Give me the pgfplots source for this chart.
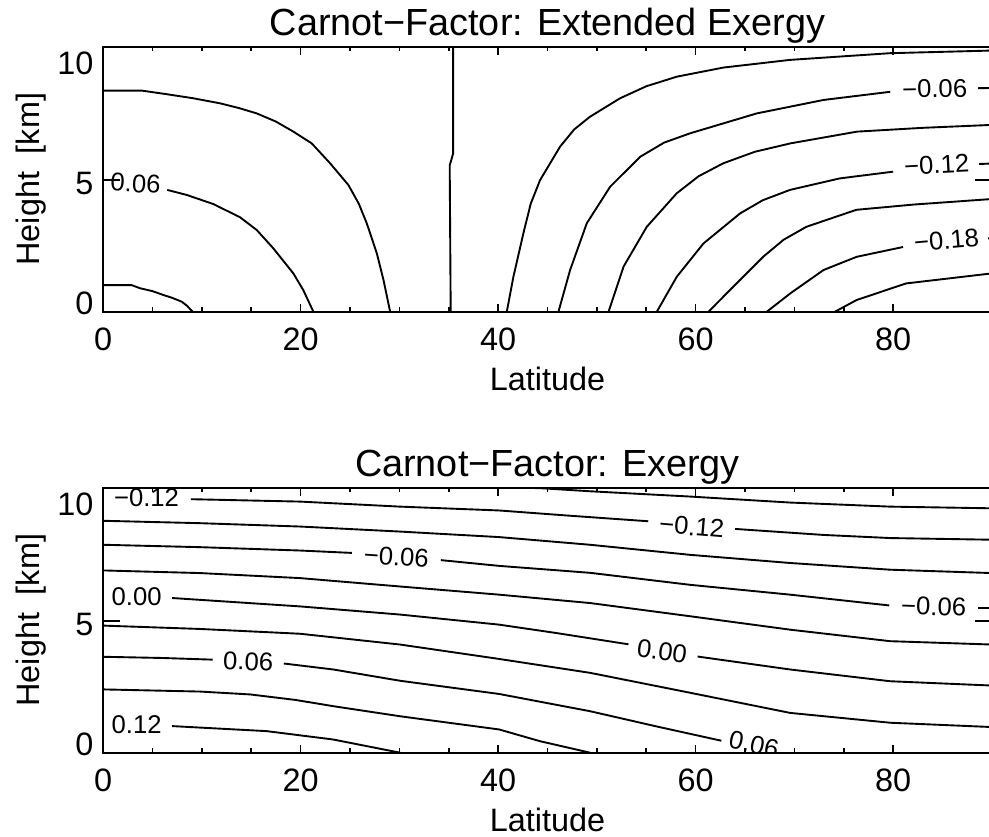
\documentclass[border=0pt]{standalone}
\usepackage{fontspec}
\setmainfont{Liberation Sans}
\usepackage{pgfplots}
\pgfplotsset{compat=1.18}

\pgfplotsset{
  carnot/.style={
    width=329.2pt, height=98.15pt, scale only axis,
    xmin=0, xmax=90, ymin=-0.5, ymax=10.55,
    xtick={0,20,40,60,80}, minor x tick num=3,
    ytick={0,5,10}, ytick style={draw=none},
    major tick length=3pt, minor tick length=1.6pt,
    axis line style={line width=0.7pt},
    every tick/.append style={line width=0.6pt, black},
    /pgf/number format/assume math mode=true,
    tick label style={font=\fontsize{12}{14}\selectfont},
    xticklabel style={anchor=center, yshift=-10.4pt},
    yticklabel style={yshift=-1.2pt},
    xlabel={Latitude},
    ylabel={Height\hspace{0.55em}[km]},
    every axis x label/.style={at={(axis description cs:0.5,-0.253)}, anchor=center,
      font=\fontsize{12}{14}\selectfont},
    every axis y label/.style={at={(axis description cs:-0.081,0.5)}, rotate=90, anchor=center,
      font=\fontsize{12}{14}\selectfont},
    every axis title/.style={at={(axis description cs:0.5,1)}, anchor=base, yshift=4pt,
      font=\fontsize{14}{16}\selectfont},
  },
  cl/.style={black, line width=0.7pt, mark=none, line join=round},
}
\tikzset{
  lab/.style={font=\fontsize{9.5}{11}\selectfont, inner sep=0pt},
  ytk/.style={line width=0.6pt},
}

\begin{document}
\begin{tikzpicture}
% ---------------- Extended exergy ----------------
\begin{axis}[carnot, at={(0,0)}, anchor=north west,
  title={Carnot−Factor: Extended Exergy}]
% 0.09
\addplot[cl] coordinates {(0,0.61) (2.9,0.61) (3.75,0.48) (5.0,0.36) (6.1,0.20) (7.0,0.08) (7.97,-0.08) (8.5,-0.25) (9.08,-0.5)};
% 0.06
\addplot[cl] coordinates {(6.5,4.58) (8.47,4.37) (11.17,3.99) (13.87,3.44) (15.56,2.91) (17.25,2.14) (19.27,1.10) (20.28,0.40) (21.3,-0.5)};
% 0.03
\addplot[cl] coordinates {(0,8.72) (3.92,8.72) (6.45,8.57) (9.14,8.40) (11.84,8.19) (13.7,8.0) (15.56,7.77) (17.5,7.43) (19.27,7.01) (21.13,6.52) (22.99,5.69) (24.85,4.78) (25.9,4.0) (26.7,3.19) (27.72,1.94) (28.4,0.82) (29.07,-0.5)};
% 0.00
\addplot[cl] coordinates {(35.45,10.55) (35.45,6.1) (35.1,5.6) (35.2,-0.5)};
% -0.03
\addplot[cl] coordinates {(40.88,-0.5) (41.55,0.96) (42.56,2.77) (43.3,4.0) (44.25,4.99) (46.27,6.38) (47.7,7.1) (49.3,7.63) (52.35,8.40) (55.0,8.9) (58.09,9.3) (62.8,9.68) (69.55,10.0) (79.7,10.28) (90,10.39)};
% -0.06
\addplot[cl] coordinates {(46.11,-0.5) (47.29,1.24) (48.98,3.19) (51.34,4.71) (54.38,5.96) (56.8,6.55) (59.44,6.94) (66.2,7.77) (72.95,8.33) (79.7,8.67)};
\addplot[cl] coordinates {(88.6,8.82) (90,8.83)};
% -0.09
\addplot[cl] coordinates {(51.18,-0.5) (52.7,1.38) (55.05,3.04) (58.09,4.44) (60.3,5.15) (62.8,5.69) (66.0,6.17) (69.6,6.52) (76.35,7.01) (83.1,7.17) (90,7.29)};
% -0.12
\addplot[cl] coordinates {(56.07,-0.5) (58.09,0.96) (60.8,2.35) (64.5,3.6) (66.8,4.15) (69.55,4.58) (74.6,5.06) (80.0,5.34)};
\addplot[cl] coordinates {(88.7,5.66) (90,5.68)};
% -0.15
\addplot[cl] coordinates {(61.3,-0.5) (63.8,0.54) (66.83,1.79) (68.9,2.5) (71.2,3.04) (76.27,3.75) (82.1,3.97) (90,4.2)};
% -0.18
\addplot[cl] coordinates {(67.2,-0.5) (69.6,0.27) (72.95,1.24) (76.3,1.79) (81.0,2.2)};
\addplot[cl] coordinates {(89.6,2.56) (90,2.57)};
% -0.21
\addplot[cl] coordinates {(74.1,-0.5) (76.3,-0.01) (81.3,0.68) (90,1.1)};
\node[lab, rotate=-3] at (axis cs:3.3,4.85) {0.06};
\node[lab, rotate=1] at (axis cs:84.2,8.8) {−0.06};
\node[lab, rotate=3] at (axis cs:84.4,5.62) {−0.12};
\node[lab, rotate=5] at (axis cs:85.4,2.48) {−0.18};
\draw[ytk] (axis cs:0,5) -- ([xshift=6.3pt]axis cs:0,5);
\draw[ytk] (axis cs:90,5) -- ([xshift=-6.3pt]axis cs:90,5);
\end{axis}

% ---------------- Exergy ----------------
\begin{axis}[carnot, at={(0,-163.3pt)}, anchor=north west,
  title={Carnot−Factor: Exergy}]
% -0.15
\addplot[cl] coordinates {(42,10.55) (44.25,10.53) (49.32,10.4) (59.44,10.18) (69.57,9.93) (79.7,9.76) (90,9.69)};
% -0.12
\addplot[cl] coordinates {(8.9,10.07) (19.95,9.97) (30.08,9.76) (40.1,9.6) (47.3,9.38) (55.2,9.15)};
\addplot[cl] coordinates {(64.0,8.83) (72.94,8.58) (79.7,8.45) (90,8.38)};
% -0.09
\addplot[cl] coordinates {(0,9.17) (9.82,9.07) (19.95,8.93) (30.08,8.72) (40.1,8.49) (49.32,8.17) (59.44,7.75) (69.57,7.41) (79.7,7.13) (90,6.99)};
% -0.06
\addplot[cl] coordinates {(0,8.17) (9.82,8.07) (19.95,7.93) (25.2,7.83)};
\addplot[cl] coordinates {(34.2,7.53) (40.1,7.29) (49.32,7.0) (59.44,6.5) (69.57,6.09) (79.6,5.64)};
\addplot[cl] coordinates {(88.6,5.53) (90,5.53)};
% -0.03
\addplot[cl] coordinates {(0,7.1) (9.82,6.99) (19.95,6.78) (30.08,6.43) (40.1,6.09) (49.32,5.74) (59.44,5.19) (69.57,4.63) (79.7,4.15) (90,4.01)};
% 0.00
\addplot[cl] coordinates {(7.0,5.95) (19.95,5.6) (30.08,5.26) (40.1,4.84) (45.9,4.49) (53.2,4.02)};
\addplot[cl] coordinates {(60.2,3.51) (69.57,2.97) (79.7,2.48) (90,2.30)};
% 0.03
\addplot[cl] coordinates {(0,4.80) (9.82,4.66) (19.95,4.46) (30.08,4.01) (40.1,3.41) (49.32,2.83) (59.44,2.0) (69.57,1.16) (79.7,0.75) (90,0.57)};
% 0.06
\addplot[cl] coordinates {(0,3.5) (6.0,3.45) (11.1,3.38)};
\addplot[cl] coordinates {(18.3,3.22) (23.32,2.97) (30.08,2.5) (40.1,1.95) (49.32,1.23) (56.0,0.6) (62.6,0.0)};
% 0.09
\addplot[cl] coordinates {(0,2.14) (9.82,2.05) (14.9,1.93) (19.5,1.7) (23.32,1.44) (30.08,1.02) (40.1,0.47) (44.25,-0.02) (49.32,-0.5)};
% 0.12
\addplot[cl] coordinates {(7.0,0.61) (16.57,0.40) (23.32,0.05) (30.08,-0.5)};
\node[lab] at (axis cs:4.4,10.15) {−0.12};
\node[lab, rotate=-5] at (axis cs:59.6,8.93) {−0.12};
\node[lab, rotate=-4] at (axis cs:29.7,7.68) {−0.06};
\node[lab, rotate=-2] at (axis cs:84.1,5.6) {−0.06};
\node[lab] at (axis cs:3.4,6.02) {0.00};
\node[lab, rotate=-8] at (axis cs:56.6,3.75) {0.00};
\node[lab, rotate=-2] at (axis cs:14.7,3.31) {0.06};
\node[lab, rotate=-12] at (axis cs:65.9,-0.15) {0.06};
\node[lab] at (axis cs:3.4,0.65) {0.12};
\draw[ytk] (axis cs:0,5) -- ([xshift=6.3pt]axis cs:0,5);
\draw[ytk] (axis cs:90,5) -- ([xshift=-6.3pt]axis cs:90,5);
\end{axis}
\pgfresetboundingbox
\path[use as bounding box] (-38.15pt,17.3pt) rectangle (328.1pt,-292.3pt);
\end{tikzpicture}
\end{document}
